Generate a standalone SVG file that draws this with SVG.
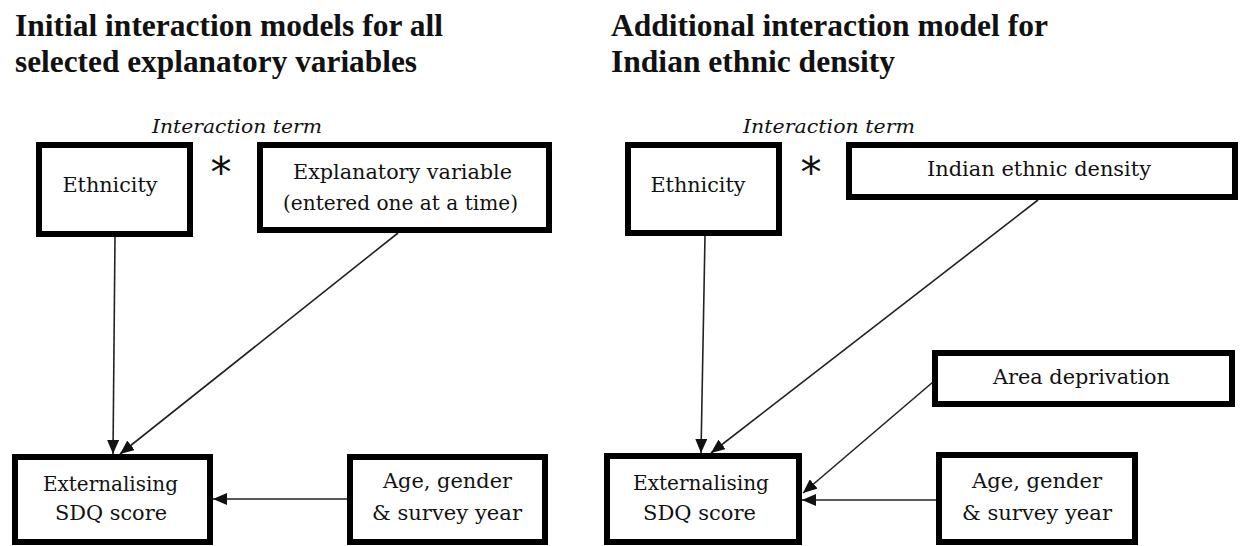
<svg xmlns="http://www.w3.org/2000/svg" width="1242" height="546" viewBox="0 0 1242 546">
  <defs>
    <style>
      .title { font-family: "Liberation Serif", "Times New Roman", serif; font-weight: bold; font-size: 31.5px; fill: #111; }
      .term { font-family: "DejaVu Serif", serif; font-style: italic; font-size: 19px; fill: #111; }
      .box { fill: #fff; stroke: #000; stroke-width: 6; }
      .label { font-family: "DejaVu Serif", serif; font-size: 20px; fill: #111; text-anchor: middle; }
      .star { font-family: "DejaVu Sans", sans-serif; font-size: 42px; fill: #111; text-anchor: middle; }
      .link { fill: none; stroke: #222; stroke-width: 1.6; }
    </style>
    <marker id="arrow" markerUnits="userSpaceOnUse" markerWidth="14" markerHeight="12" viewBox="0 0 14 12" refX="14" refY="6" orient="auto">
      <path d="M0,0 L14,6 L0,12 z" fill="#111"/>
    </marker>
  </defs>
  <rect width="1242" height="546" fill="#fff"/>

  <!-- Panel headings -->
  <g id="headings">
    <text class="title" x="15" y="36" textLength="428" lengthAdjust="spacingAndGlyphs">Initial interaction models for all</text>
    <text class="title" x="15" y="72" textLength="402" lengthAdjust="spacingAndGlyphs">selected explanatory variables</text>
    <text class="title" x="611" y="36" textLength="437" lengthAdjust="spacingAndGlyphs">Additional interaction model for</text>
    <text class="title" x="611" y="72" textLength="284" lengthAdjust="spacingAndGlyphs">Indian ethnic density</text>
  </g>

  <!-- Interaction term labels and multiplication stars -->
  <g id="interaction-left">
    <text class="term" x="152" y="133" textLength="170" lengthAdjust="spacingAndGlyphs">Interaction term</text>
    <text class="star" x="221" y="187">*</text>
  </g>
  <g id="interaction-right">
    <text class="term" x="743" y="133" textLength="172" lengthAdjust="spacingAndGlyphs">Interaction term</text>
    <text class="star" x="811" y="187">*</text>
  </g>

  <!-- Connectors -->
  <g id="connectors">
    <line class="link" x1="115" y1="237" x2="113" y2="454" marker-end="url(#arrow)"/>
    <line class="link" x1="398" y1="233" x2="120" y2="454" marker-end="url(#arrow)"/>
    <line class="link" x1="347" y1="499" x2="213" y2="499" marker-end="url(#arrow)"/>
    <line class="link" x1="705" y1="236" x2="701" y2="453" marker-end="url(#arrow)"/>
    <line class="link" x1="1038" y1="200" x2="711" y2="453" marker-end="url(#arrow)"/>
    <line class="link" x1="933" y1="382" x2="803" y2="493" marker-end="url(#arrow)"/>
    <line class="link" x1="936" y1="500" x2="802" y2="500" marker-end="url(#arrow)"/>
  </g>

  <!-- Left model -->
  <g id="ethnicity-left">
    <rect class="box" x="39" y="145" width="151" height="89"/>
    <text class="label" x="110" y="192" textLength="95" lengthAdjust="spacingAndGlyphs">Ethnicity</text>
  </g>
  <g id="explanatory-variable">
    <rect class="box" x="260" y="145" width="289" height="85"/>
    <text class="label" x="402.5" y="179" textLength="219" lengthAdjust="spacingAndGlyphs">Explanatory variable</text>
    <text class="label" x="400.5" y="210" textLength="235" lengthAdjust="spacingAndGlyphs">(entered one at a time)</text>
  </g>
  <g id="externalising-left">
    <rect class="box" x="15" y="457" width="195" height="85"/>
    <text class="label" x="110.5" y="491" textLength="135" lengthAdjust="spacingAndGlyphs">Externalising</text>
    <text class="label" x="111" y="520" textLength="112" lengthAdjust="spacingAndGlyphs">SDQ score</text>
  </g>
  <g id="covariates-left">
    <rect class="box" x="350" y="457" width="195" height="85"/>
    <text class="label" x="447.5" y="488" textLength="129" lengthAdjust="spacingAndGlyphs">Age, gender</text>
    <text class="label" x="447" y="520" textLength="150" lengthAdjust="spacingAndGlyphs">&amp; survey year</text>
  </g>

  <!-- Right model -->
  <g id="ethnicity-right">
    <rect class="box" x="628" y="145" width="151" height="88"/>
    <text class="label" x="698" y="192" textLength="95" lengthAdjust="spacingAndGlyphs">Ethnicity</text>
  </g>
  <g id="indian-ethnic-density">
    <rect class="box" x="849" y="145" width="386" height="52"/>
    <text class="label" x="1039" y="176" textLength="224" lengthAdjust="spacingAndGlyphs">Indian ethnic density</text>
  </g>
  <g id="area-deprivation">
    <rect class="box" x="935" y="353" width="297" height="51"/>
    <text class="label" x="1081.5" y="384" textLength="177" lengthAdjust="spacingAndGlyphs">Area deprivation</text>
  </g>
  <g id="externalising-right">
    <rect class="box" x="607" y="456" width="192" height="86"/>
    <text class="label" x="701" y="490" textLength="136" lengthAdjust="spacingAndGlyphs">Externalising</text>
    <text class="label" x="699.5" y="520" textLength="113" lengthAdjust="spacingAndGlyphs">SDQ score</text>
  </g>
  <g id="covariates-right">
    <rect class="box" x="939" y="455" width="196" height="87"/>
    <text class="label" x="1037" y="488" textLength="130" lengthAdjust="spacingAndGlyphs">Age, gender</text>
    <text class="label" x="1037" y="520" textLength="150" lengthAdjust="spacingAndGlyphs">&amp; survey year</text>
  </g>
</svg>
